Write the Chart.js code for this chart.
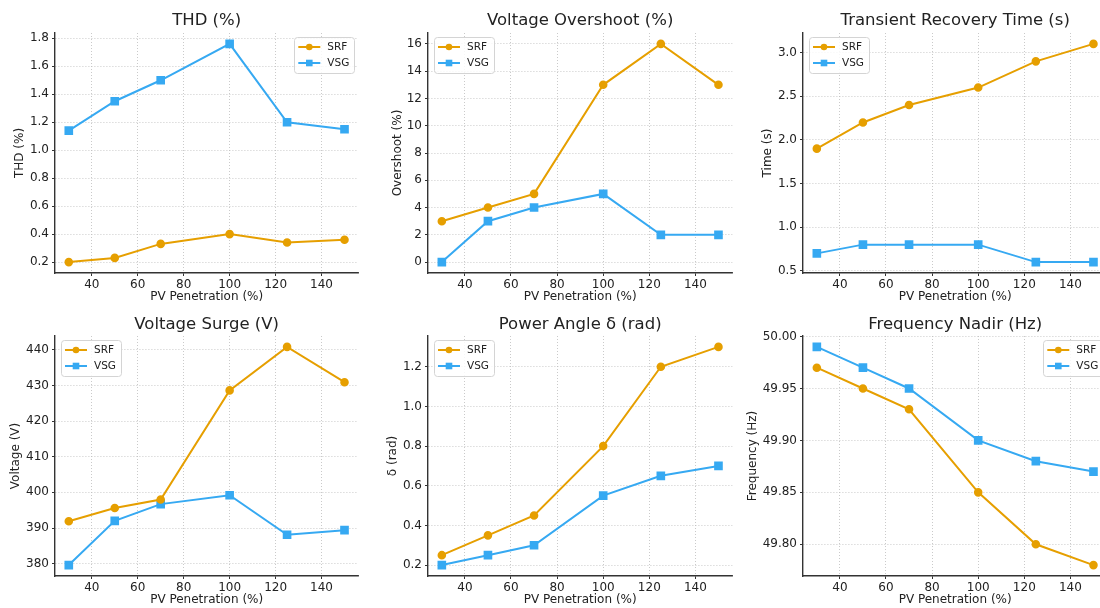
<!DOCTYPE html>
<html>
<head>
<meta charset="utf-8">
<script src="https://cdn.jsdelivr.net/npm/chart.js@4.4.0/dist/chart.umd.min.js"></script>
<style>
  html, body { margin: 0; padding: 0; background: #fff; overflow: hidden; width: 1100px; height: 608px; }
  canvas { position: absolute; }
</style>
</head>
<body>
<canvas id="thd"></canvas>
<canvas id="overshoot"></canvas>
<canvas id="recovery"></canvas>
<canvas id="surge"></canvas>
<canvas id="angle"></canvas>
<canvas id="nadir"></canvas>
<script>
// PV penetration (%) - shared x values
const penetration = [30, 50, 70, 100, 125, 150];
const xTicks = [40, 60, 80, 100, 120, 140];

// THD (%)
const thdSRF = [0.20, 0.23, 0.33, 0.40, 0.34, 0.36];
const thdVSG = [1.14, 1.35, 1.50, 1.76, 1.20, 1.15];
const thdTicks = [0.2, 0.4, 0.6, 0.8, 1.0, 1.2, 1.4, 1.6, 1.8];

// Voltage overshoot (%)
const overshootSRF = [3, 4, 5, 13, 16, 13];
const overshootVSG = [0, 3, 4, 5, 2, 2];
const overshootTicks = [0, 2, 4, 6, 8, 10, 12, 14, 16];

// Transient recovery time (s)
const recoverySRF = [1.9, 2.2, 2.4, 2.6, 2.9, 3.1];
const recoveryVSG = [0.7, 0.8, 0.8, 0.8, 0.6, 0.6];
const recoveryTicks = [0.5, 1.0, 1.5, 2.0, 2.5, 3.0];

// Voltage surge (V)
const surgeSRF = [391.9, 395.6, 398.0, 428.6, 440.8, 430.9];
const surgeVSG = [379.6, 392.0, 396.7, 399.2, 388.1, 389.4];
const surgeTicks = [380, 390, 400, 410, 420, 430, 440];

// Power angle (rad)
const angleSRF = [0.25, 0.35, 0.45, 0.80, 1.20, 1.30];
const angleVSG = [0.20, 0.25, 0.30, 0.55, 0.65, 0.70];
const angleTicks = [0.2, 0.4, 0.6, 0.8, 1.0, 1.2];

// Frequency nadir (Hz)
const nadirSRF = [49.97, 49.95, 49.93, 49.85, 49.80, 49.78];
const nadirVSG = [49.99, 49.97, 49.95, 49.90, 49.88, 49.87];
const nadirTicks = [49.80, 49.85, 49.90, 49.95, 50.00];

const SRF_COLOR = '#E69F00';
const VSG_COLOR = '#36A9F2';
const FONT = 'DejaVu Sans';

// grid placement (px)
const cols = [
  {start: 0, left: 55, right: 361},
  {start: 370, left: 428, right: 735},
  {start: 740, left: 803, right: 1110}
];
const rows = [
  {top: 0, height: 305, tTop: 11, tBottom: 2.2},
  {top: 305, height: 303, tTop: 9.6, tBottom: 1.6}
];

// legend drawn inside the plot, like matplotlib
const insideLegend = {
  id: 'insideLegend',
  afterDatasetsDraw(chart, args, opts) {
    const ctx = chart.ctx, a = chart.chartArea;
    const w = 60, h = 36;
    const x = opts.side === 'right' ? a.right - w - 4 : a.left + 6;
    const y = a.top + 4;
    ctx.save();
    ctx.fillStyle = 'rgba(255,255,255,0.85)';
    ctx.strokeStyle = '#d4d4d4';
    ctx.lineWidth = 1;
    ctx.beginPath();
    ctx.roundRect(Math.round(x) + 0.5, Math.round(y) + 0.5, w, h, 3);
    ctx.fill();
    ctx.stroke();
    chart.data.datasets.forEach((ds, i) => {
      const ly = y + 10 + i * 16;
      ctx.strokeStyle = ds.borderColor;
      ctx.fillStyle = ds.borderColor;
      ctx.lineWidth = 2;
      ctx.beginPath();
      ctx.moveTo(x + 4, ly);
      ctx.lineTo(x + 26, ly);
      ctx.stroke();
      ctx.beginPath();
      if (ds.pointStyle === 'rect') ctx.rect(x + 11.7, ly - 3.3, 6.6, 6.6);
      else ctx.arc(x + 15, ly, 3.3, 0, Math.PI * 2);
      ctx.fill();
      ctx.fillStyle = '#222';
      ctx.font = '10.5px ' + FONT;
      ctx.textBaseline = 'middle';
      ctx.fillText(ds.label, x + 33, ly + 0.5);
    });
    ctx.restore();
  }
};

function makeChart(id, spec) {
  const col = cols[spec.col], row = rows[spec.row];
  const canvas = document.getElementById(id);
  canvas.width = col.right - col.start + 4;
  canvas.height = row.height;
  canvas.style.left = col.start + 'px';
  canvas.style.top = row.top + 'px';

  const all = spec.srf.concat(spec.vsg);
  const lo = Math.min(...all), hi = Math.max(...all);
  const pad = (hi - lo) * 0.05;

  return new Chart(canvas, {
    type: 'line',
    data: {
      datasets: [{
        label: 'SRF',
        data: penetration.map((p, i) => ({x: p, y: spec.srf[i]})),
        borderColor: SRF_COLOR,
        backgroundColor: SRF_COLOR,
        pointStyle: 'circle',
        pointRadius: 3.3,
        borderWidth: 2
      }, {
        label: 'VSG',
        data: penetration.map((p, i) => ({x: p, y: spec.vsg[i]})),
        borderColor: VSG_COLOR,
        backgroundColor: VSG_COLOR,
        pointStyle: 'rect',
        pointRadius: 4.7,
        borderWidth: 2
      }]
    },
    options: {
      responsive: false,
      animation: false,
      layout: {padding: {left: 0, right: 4, top: 0, bottom: 0}},
      plugins: {
        legend: {display: false},
        tooltip: {enabled: false},
        title: {
          display: true,
          text: spec.title,
          fullSize: false,
          color: '#222',
          font: {family: FONT, size: 16.5, weight: 'normal'},
          padding: {top: row.tTop, bottom: row.tBottom}
        },
        insideLegend: {side: spec.legend}
      },
      scales: {
        x: {
          type: 'linear',
          min: 24,
          max: 156,
          afterBuildTicks: s => { s.ticks = xTicks.map(v => ({value: v})); },
          afterFit: s => { s.height = 32; },
          ticks: {color: '#222', font: {family: FONT, size: 12}, padding: 1.5, maxRotation: 0,
                  callback: v => String(v)},
          grid: {color: '#bdbdbd', lineWidth: 0.8, tickLength: 3, tickColor: '#333', tickWidth: 1},
          border: {color: '#333', width: 1.4, dash: [1, 2]},
          title: {display: true, text: 'PV Penetration (%)', color: '#222',
                  font: {family: FONT, size: 12}, padding: {top: 0, bottom: 0.8}}
        },
        y: {
          type: 'linear',
          min: lo - pad,
          max: hi + pad,
          afterBuildTicks: s => { s.ticks = spec.ticks.map(v => ({value: v})); },
          afterFit: s => { s.width = col.left - col.start; },
          ticks: {color: '#222', font: {family: FONT, size: 12}, padding: 3,
                  callback: v => Number(v).toFixed(spec.dec)},
          grid: {color: '#bdbdbd', lineWidth: 0.8, tickLength: 3, tickColor: '#333', tickWidth: 1},
          border: {color: '#333', width: 1.4, dash: [1, 2]},
          title: {display: true, text: spec.yTitle, color: '#222',
                  font: {family: FONT, size: 12}, padding: {top: spec.yTitleX - 7.2, bottom: 0}}
        }
      }
    },
    plugins: [insideLegend]
  });
}

makeChart('thd', {row: 0, col: 0, title: 'THD (%)', yTitle: 'THD (%)',
  srf: thdSRF, vsg: thdVSG, ticks: thdTicks, dec: 1, yTitleX: 20, legend: 'right'});
makeChart('overshoot', {row: 0, col: 1, title: 'Voltage Overshoot (%)', yTitle: 'Overshoot (%)',
  srf: overshootSRF, vsg: overshootVSG, ticks: overshootTicks, dec: 0, yTitleX: 28.3, legend: 'left'});
makeChart('recovery', {row: 0, col: 2, title: 'Transient Recovery Time (s)', yTitle: 'Time (s)',
  srf: recoverySRF, vsg: recoveryVSG, ticks: recoveryTicks, dec: 1, yTitleX: 28.3, legend: 'left'});
makeChart('surge', {row: 1, col: 0, title: 'Voltage Surge (V)', yTitle: 'Voltage (V)',
  srf: surgeSRF, vsg: surgeVSG, ticks: surgeTicks, dec: 0, yTitleX: 16, legend: 'left'});
makeChart('angle', {row: 1, col: 1, title: 'Power Angle δ (rad)', yTitle: 'δ (rad)',
  srf: angleSRF, vsg: angleVSG, ticks: angleTicks, dec: 1, yTitleX: 23.3, legend: 'left'});
makeChart('nadir', {row: 1, col: 2, title: 'Frequency Nadir (Hz)', yTitle: 'Frequency (Hz)',
  srf: nadirSRF, vsg: nadirVSG, ticks: nadirTicks, dec: 2, yTitleX: 12.7, legend: 'right'});
</script>
</body>
</html>
